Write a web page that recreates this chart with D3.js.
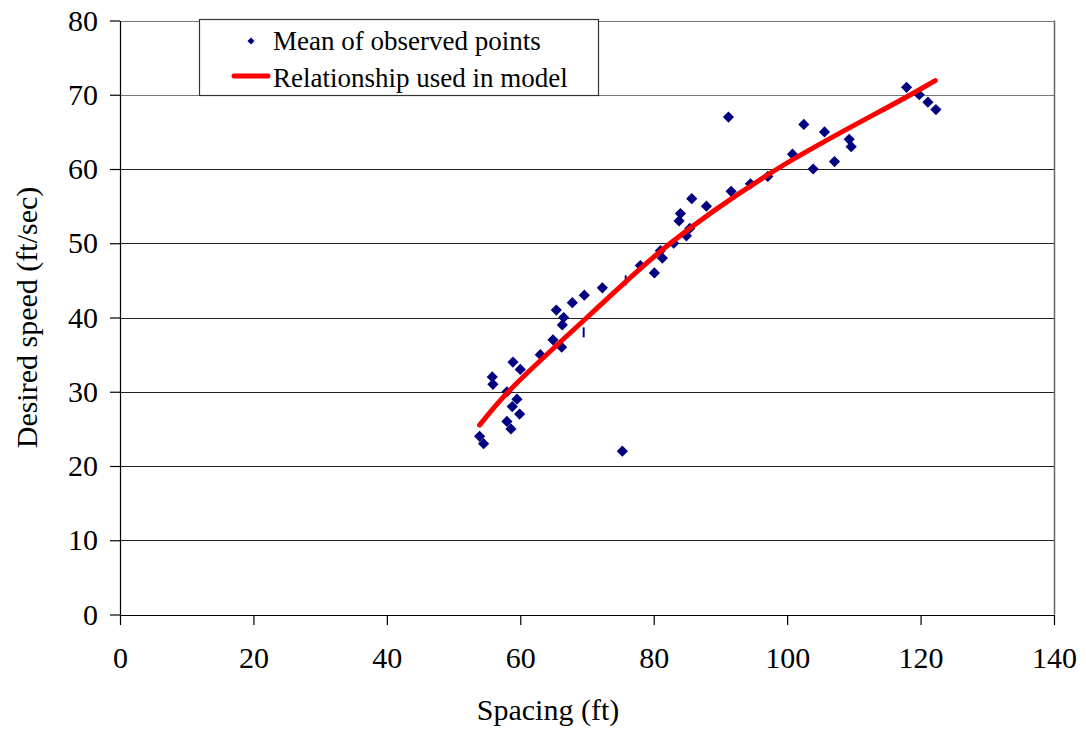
<!DOCTYPE html>
<html>
<head>
<meta charset="utf-8">
<script src="https://cdn.jsdelivr.net/npm/d3@7"></script>
<style>
  body { margin: 0; background: #fff; }
  text { font-family: "Liberation Serif", "Times New Roman", serif; fill: #000; }
</style>
</head>
<body>
<svg id="chart" width="1086" height="731"></svg>
<script>
"use strict";

// mean spacing (ft) for each observed desired speed (ft/sec)
const spacing = [53.9, 54.5, 55.8, 55.9, 58.0, 59.5, 58.8, 58.0, 58.6, 59.9,
  58.9, 60.0, 63.0, 64.9, 66.2, 65.4, 66.5, 66.3, 67.8, 69.6,
  72.3, 75.3, 78.0, 80.1, 81.0, 81.3, 83.0, 84.0, 83.8, 84.9,
  85.4, 85.7, 87.9, 91.6, 91.2, 94.5, 97.1, 100.8, 102.5, 103.9,
  105.6, 107.1, 109.3, 109.6, 117.9, 119.8, 121.1, 122.3];
const speed = [24, 23, 32, 31, 30, 29, 28, 26, 25, 27,
  34, 33, 35, 37, 36, 41, 40, 39, 42, 43,
  44, 22, 47, 46, 49, 48, 50, 54, 53, 51,
  52, 56, 55, 57, 67, 58, 59, 62, 66, 60,
  65, 61, 64, 63, 71, 70, 69, 68];

// two points that show up only as thin strokes in the picture
const thinSpacing = [69.5, 75.8];
const thinSpeed = [38, 45];

// model curve
const modelSpacing = [53.9, 58.2, 70, 82.5, 98.5, 118.5, 122.2];
const modelSpeed = [25.5, 30, 40, 50, 60, 70, 71.9];

const xTicks = [0, 20, 40, 60, 80, 100, 120, 140];
const yTicks = [0, 10, 20, 30, 40, 50, 60, 70, 80];

const svg = d3.select("#chart");
const plotLeft = 120, plotRight = 1054, plotTop = 20.5, plotBottom = 614.5;

const x = d3.scaleLinear().domain([0, 140]).range([plotLeft, plotRight]);
const y = d3.scaleLinear().domain([0, 80]).range([plotBottom, plotTop]);

// gridlines
svg.append("g")
  .selectAll("line")
  .data(yTicks.filter(d => d > 0))
  .enter().append("line")
  .attr("x1", plotLeft).attr("x2", plotRight)
  .attr("y1", d => Math.round(y(d)) + 0.5)
  .attr("y2", d => Math.round(y(d)) + 0.5)
  .attr("stroke", d => d >= 70 ? "#777" : "#222")
  .attr("stroke-width", 1.2);

// right border of plot area
svg.append("line")
  .attr("x1", plotRight + 0.5).attr("x2", plotRight + 0.5)
  .attr("y1", plotTop).attr("y2", plotBottom)
  .attr("stroke", "#666").attr("stroke-width", 1.5);

// axes
const xAxis = svg.append("g")
  .attr("transform", `translate(0, ${Math.round(plotBottom)})`)
  .call(d3.axisBottom(x).tickValues(xTicks).tickSize(10).tickPadding(22).tickSizeOuter(0));
const yAxis = svg.append("g")
  .attr("transform", `translate(${plotLeft}, 0)`)
  .call(d3.axisLeft(y).tickValues(yTicks).tickSize(10).tickPadding(12).tickSizeOuter(0));

[xAxis, yAxis].forEach(a => {
  a.select(".domain").attr("stroke", "#000").attr("stroke-width", 1.2);
  a.selectAll(".tick line").attr("stroke", "#000").attr("stroke-width", 1.2);
  a.selectAll(".tick text")
    .style("font-family", '"Liberation Serif", "Times New Roman", serif')
    .style("font-size", "30px").attr("fill", "#000");
});
xAxis.selectAll(".tick text").attr("dy", "0.71em");

// axis titles
svg.append("text")
  .attr("x", 548)
  .attr("y", 720)
  .attr("text-anchor", "middle")
  .style("font-size", "30px")
  .text("Spacing (ft)");

svg.append("text")
  .attr("transform", `translate(37, ${(plotTop + plotBottom) / 2}) rotate(-90)`)
  .attr("text-anchor", "middle")
  .style("font-size", "30px")
  .text("Desired speed (ft/sec)");

// observed points
const diamond = d3.symbol().type(d3.symbolDiamond2).size(80);
svg.append("g")
  .selectAll("path")
  .data(spacing.map((s, i) => ({ s: s, v: speed[i] })))
  .enter().append("path")
  .attr("d", diamond)
  .attr("transform", d => `translate(${x(d.s)}, ${y(d.v)})`)
  .attr("fill", "#000080");

svg.append("g")
  .selectAll("line")
  .data(thinSpacing.map((s, i) => ({ s: s, v: thinSpeed[i] })))
  .enter().append("line")
  .attr("x1", d => x(d.s)).attr("x2", d => x(d.s))
  .attr("y1", d => y(d.v) - 5).attr("y2", d => y(d.v) + 5)
  .attr("stroke", "#000080").attr("stroke-width", 2);

// model relationship
const line = d3.line()
  .x(d => x(d.s))
  .y(d => y(d.v))
  .curve(d3.curveCatmullRom.alpha(0.5));
svg.append("path")
  .datum(modelSpacing.map((s, i) => ({ s: s, v: modelSpeed[i] })))
  .attr("d", line)
  .attr("fill", "none")
  .attr("stroke", "#ff0000")
  .attr("stroke-width", 5)
  .attr("stroke-linecap", "round");

// legend
const legend = svg.append("g");
legend.append("rect")
  .attr("x", 199.5).attr("y", 19.5)
  .attr("width", 399).attr("height", 76)
  .attr("fill", "#fff")
  .attr("stroke", "#333").attr("stroke-width", 1.2);
legend.append("path")
  .attr("d", d3.symbol().type(d3.symbolDiamond2).size(32))
  .attr("transform", "translate(251, 41)")
  .attr("fill", "#000080");
legend.append("line")
  .attr("x1", 234).attr("x2", 268)
  .attr("y1", 76).attr("y2", 76)
  .attr("stroke", "#ff0000").attr("stroke-width", 5)
  .attr("stroke-linecap", "round");
legend.append("text")
  .attr("x", 273).attr("y", 49.5)
  .style("font-size", "27px")
  .text("Mean of observed points");
legend.append("text")
  .attr("x", 273).attr("y", 87)
  .style("font-size", "27px")
  .text("Relationship used in model");
</script>
</body>
</html>
